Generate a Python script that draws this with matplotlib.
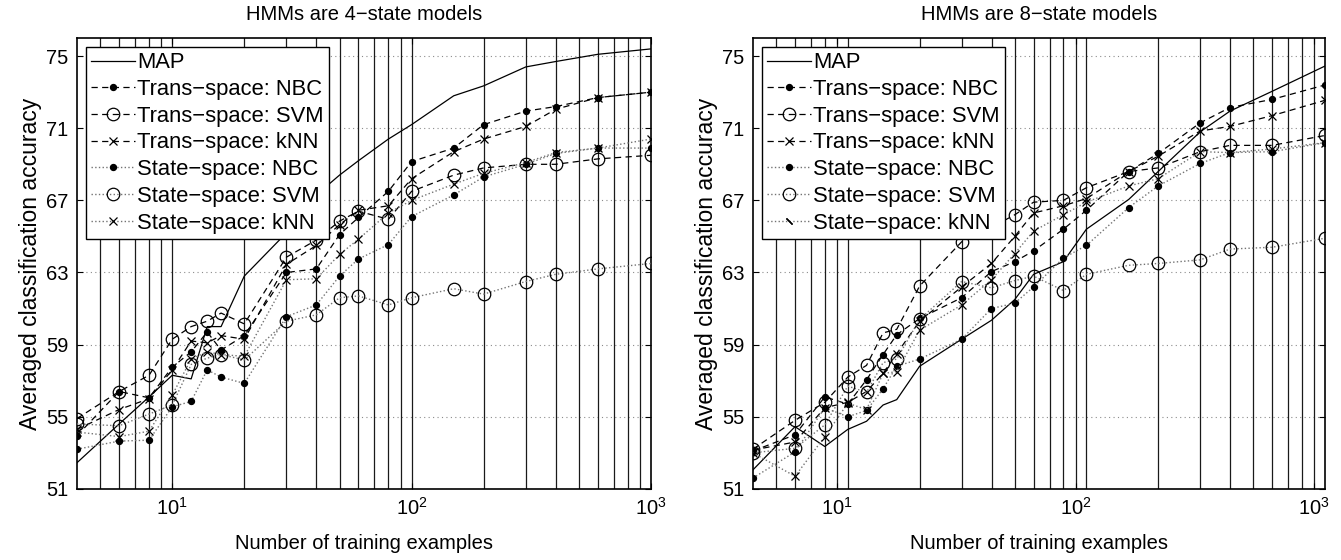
import matplotlib
matplotlib.use("Agg")
import matplotlib.pyplot as plt
from matplotlib.lines import Line2D
from matplotlib.ticker import LogLocator, NullLocator, NullFormatter, LogFormatterMathtext

plt.rcParams['font.family'] = ['Liberation Sans', 'DejaVu Sans']
plt.rcParams['mathtext.fontset'] = 'custom'
plt.rcParams['mathtext.rm'] = 'Liberation Sans'

# ---- data: 4-state models (left) ----
x_4 = [4, 6, 8, 10, 12, 14, 16, 20, 30, 40, 50, 60, 80, 100, 150, 200, 300, 400, 600, 1000]
map_4 = [52.45, 54.6, 56.1, 57.3, 57.1, 60.0, 60.0, 62.8, 65.2, 67.3, 68.4, 69.2, 70.4, 71.2,
         72.8, 73.35, 74.4, 74.7, 75.1, 75.4]
tnbc_4 = [53.95, 56.4, 56.05, 57.75, 58.6, 59.7, 58.7, 59.5, 63.0, 63.2, 65.1, 66.05, 67.5, 69.15,
          69.9, 71.2, 71.95, 72.2, 72.7, 73.0]
tsvm_4 = [54.9, 56.4, 57.3, 59.3, 60.0, 60.3, 60.75, 60.15, 63.85, 64.8, 65.85, 66.4, 65.95, 67.5,
          68.4, 68.8, 69.0, 69.0, 69.3, 69.5]
tknn_4 = [54.3, 55.4, 56.0, 57.6, 59.2, 59.1, 59.5, 59.3, 63.45, 64.5, 65.65, 66.45, 66.7, 68.2,
          69.7, 70.4, 71.1, 72.05, 72.7, 73.0]
snbc_4 = [53.2, 53.65, 53.7, 55.55, 55.85, 57.6, 57.2, 56.85, 60.55, 61.2, 62.8, 63.75, 64.55, 66.1,
          67.3, 68.3, 69.0, 69.6, 69.9, 69.9]
ssvm_4 = [54.6, 54.5, 55.15, 55.65, 57.9, 58.25, 58.45, 58.15, 60.3, 60.65, 61.6, 61.7, 61.2, 61.6,
          62.1, 61.8, 62.5, 62.9, 63.2, 63.5]
sknn_4 = [54.15, 53.9, 54.2, 56.2, 58.2, 58.6, 58.45, 58.35, 62.6, 62.65, 64.0, 64.85, 66.3, 67.0,
          67.9, 68.5, 69.1, 69.65, 69.9, 70.4]

# ---- data: 8-state models (right) ----
x_8 = [4.44, 6.67, 8.89, 11.1, 13.3, 15.6, 17.8, 22.2, 33.3, 44.4, 55.6, 66.7, 88.9, 111, 167, 222,
       333, 444, 667, 1111]
map_8 = [52.05, 54.45, 53.35, 54.3, 54.75, 55.65, 55.95, 57.8, 59.3, 60.35, 61.5, 62.9, 63.6, 65.4,
         67.05, 68.6, 70.8, 71.95, 73.05, 74.45]
tnbc_8 = [53.1, 54.0, 56.1, 55.7, 57.05, 58.45, 59.55, 60.45, 61.6, 63.05, 63.6, 64.2, 65.4, 66.45,
          68.6, 69.6, 71.3, 72.15, 72.6, 73.4]
tsvm_8 = [53.2, 54.8, 55.8, 57.2, 57.85, 59.65, 59.85, 62.25, 64.7, 65.5, 66.2, 66.9, 67.0, 67.7,
          68.6, 68.8, 69.7, 70.05, 70.05, 70.6]
tknn_8 = [53.15, 53.6, 55.5, 55.8, 56.4, 57.4, 58.5, 60.3, 62.2, 63.5, 65.0, 66.3, 66.7, 67.1,
          68.6, 69.45, 70.85, 71.1, 71.7, 72.55]
snbc_8 = [51.6, 53.05, 55.5, 55.0, 55.35, 56.55, 57.8, 58.2, 59.3, 61.0, 61.3, 62.2, 63.8, 64.5,
          66.6, 67.8, 69.05, 69.65, 69.7, 70.2]
ssvm_8 = [53.0, 53.25, 54.55, 56.7, 56.35, 58.0, 58.2, 60.4, 62.5, 62.15, 62.55, 62.8, 62.0, 62.9,
          63.4, 63.5, 63.7, 64.3, 64.4, 64.9]
sknn_8 = [53.0, 51.7, 53.9, 55.75, 55.4, 57.4, 57.5, 59.8, 61.2, 62.6, 64.05, 65.3, 66.2, 66.9,
          67.8, 68.2, 69.7, 69.65, 69.85, 70.2]

labels = ['MAP', 'Trans\u2212space: NBC', 'Trans\u2212space: SVM', 'Trans\u2212space: kNN',
          'State\u2212space: NBC', 'State\u2212space: SVM', 'State\u2212space: kNN']
yticks = [51, 55, 59, 63, 67, 71, 75]

fig = plt.figure(figsize=(13.41, 5.6), dpi=100)
ax1 = fig.add_axes([0.0574, 0.127, 0.428, 0.805])
ax2 = fig.add_axes([0.5615, 0.127, 0.4266, 0.805])

dash = (0, (5, 3.5))
gray = '0.45'


def draw(ax, x, series, xlim, scale, title):
    m, tn, ts, tk, sn, ss, sk = series
    ax.plot(x, m, '-', color='k', lw=0.9, label=labels[0], zorder=4)
    ax.plot(x, tn, ls=dash, color='k', lw=0.9, marker='.', ms=8.5, label=labels[1], zorder=4)
    ax.plot(x, ts, ls=dash, color='k', lw=0.9, marker='o', ms=9, mfc='none', mew=0.9,
            label=labels[2], zorder=4)
    ax.plot(x, tk, ls=dash, color='k', lw=0.9, marker='x', ms=6, mew=0.9, label=labels[3], zorder=4)
    ax.plot(x, sn, ls=':', color=gray, lw=1.0, marker='.', ms=8.5, mfc='k', mec='k',
            label=labels[4], zorder=4)
    ax.plot(x, ss, ls=':', color=gray, lw=1.0, marker='o', ms=9, mfc='none', mec='k', mew=0.9,
            label=labels[5], zorder=4)
    ax.plot(x, sk, ls=':', color=gray, lw=1.0, marker='x', ms=6, mec='k', mew=0.9,
            label=labels[6], zorder=4)

    ax.set_xscale('log')
    ax.set_xlim(*xlim)
    ax.set_ylim(51, 76)
    ax.set_yticks(yticks)

    # vertical grid lines (log grid, scaled for the right panel)
    for dec in [1, 10, 100]:
        for k in range(1, 10):
            v = k * dec * scale
            if xlim[0] * 1.01 < v < xlim[1] * 0.99:
                ax.axvline(v, color='0.1', lw=0.9, zorder=1)
    for yv in yticks:
        ax.axhline(yv, color='0.55', lw=0.8, ls=(0, (1, 3)), zorder=0.5)

    ax.xaxis.set_major_locator(LogLocator(base=10, numticks=10))
    ax.xaxis.set_major_formatter(LogFormatterMathtext())
    ax.xaxis.set_minor_locator(NullLocator())
    ax.xaxis.set_minor_formatter(NullFormatter())
    ax.tick_params(direction='in', top=True, right=True, length=4, width=0.8,
                   labelsize=14.5, pad=6)
    for s in ax.spines.values():
        s.set_linewidth(1.2)
    ax.set_title(title, fontsize=14.5, pad=13)
    ax.set_xlabel('Number of training examples', fontsize=14.5, labelpad=11)
    ax.set_ylabel('Averaged classification accuracy', fontsize=16.5, labelpad=3)


draw(ax1, x_4, [map_4, tnbc_4, tsvm_4, tknn_4, snbc_4, ssvm_4, sknn_4], (4, 1000), 1.0,
     'HMMs are 4\u2212state models')
draw(ax2, x_8, [map_8, tnbc_8, tsvm_8, tknn_8, snbc_8, ssvm_8, sknn_8], (40 / 9, 10000 / 9), 10 / 9,
     'HMMs are 8\u2212state models')

for ax, right in [(ax1, False), (ax2, True)]:
    handles, labs = ax.get_legend_handles_labels()
    if right:
        handles[6] = Line2D([], [], ls=':', color=gray, lw=1.0, marker=(2, 2, 45), ms=6,
                            mec='k', mew=0.9)
    leg = ax.legend(handles, labs, loc='upper left', fontsize=15.8, frameon=True, fancybox=False,
                    edgecolor='k', framealpha=1, borderaxespad=0.4, handlelength=2.0,
                    handletextpad=0.1, labelspacing=0.26, borderpad=0.25)
    leg.get_frame().set_linewidth(1.0)
    leg.set_zorder(10)

fig.savefig('out.png', dpi=100)
